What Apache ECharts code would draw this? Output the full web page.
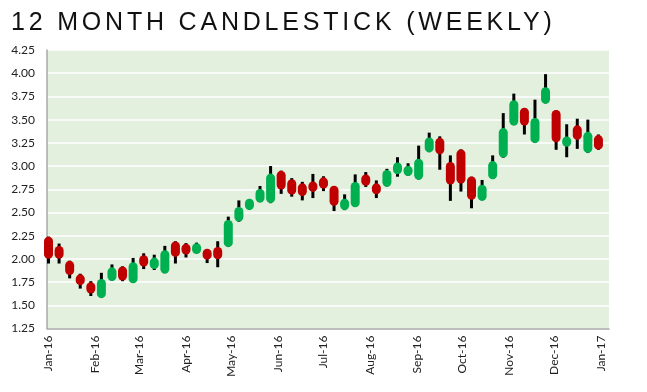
<!DOCTYPE html>
<html>
<head>
<meta charset="utf-8">
<script src="https://cdn.jsdelivr.net/npm/echarts@6/dist/echarts.min.js"></script>
<style>
  html, body { margin: 0; padding: 0; background: #fff; }
  #wrap { position: relative; width: 647px; height: 392px; }
  #chart { position: absolute; left: 0; top: 0; width: 647px; height: 392px; }
  #title { position: absolute; left: 11px; top: 9px; font-family: "Liberation Sans", Arial, sans-serif;
           font-size: 25px; line-height: 25px; letter-spacing: 3.8px; color: #111; white-space: nowrap; z-index: 2; }
</style>
</head>
<body>
<div id="wrap">
  <div id="chart"></div>
  <div id="title">12 MONTH CANDLESTICK (WEEKLY)</div>
</div>
<script>
// Weekly candles (week ending Friday)
const weeks = [
  '2016-01-01','2016-01-08','2016-01-15','2016-01-22','2016-01-29',
  '2016-02-05','2016-02-12','2016-02-19','2016-02-26',
  '2016-03-04','2016-03-11','2016-03-18','2016-03-25',
  '2016-04-01','2016-04-08','2016-04-15','2016-04-22','2016-04-29',
  '2016-05-06','2016-05-13','2016-05-20','2016-05-27',
  '2016-06-03','2016-06-10','2016-06-17','2016-06-24',
  '2016-07-01','2016-07-08','2016-07-15','2016-07-22','2016-07-29',
  '2016-08-05','2016-08-12','2016-08-19','2016-08-26',
  '2016-09-02','2016-09-09','2016-09-16','2016-09-23','2016-09-30',
  '2016-10-07','2016-10-14','2016-10-21','2016-10-28',
  '2016-11-04','2016-11-11','2016-11-18','2016-11-25',
  '2016-12-02','2016-12-09','2016-12-16','2016-12-23','2016-12-30'
];
const openVals = [
  2.19, 2.09, 1.93, 1.785, 1.70, 1.625, 1.81, 1.87, 1.785, 1.99, 1.94, 1.89, 2.14,
  2.115, 2.10, 2.06, 2.08, 2.175, 2.45, 2.575, 2.655, 2.65, 2.90, 2.81, 2.765, 2.785,
  2.83, 2.74, 2.575, 2.605, 2.86, 2.765, 2.825, 2.96, 2.94, 2.90, 3.195, 3.255, 2.995,
  3.13, 2.84, 2.675, 2.905, 3.14, 3.485, 3.58, 3.295, 3.72, 3.555, 3.255, 3.39, 3.19, 3.285
];
const highVals = [
  2.24, 2.165, 1.98, 1.84, 1.76, 1.85, 1.94, 1.92, 2.01, 2.06, 2.045, 2.14, 2.19,
  2.17, 2.175, 2.10, 2.19, 2.455, 2.63, 2.645, 2.785, 3.00, 2.95, 2.87, 2.83, 2.915,
  2.89, 2.785, 2.695, 2.91, 2.935, 2.845, 2.97, 3.095, 3.03, 3.22, 3.36, 3.32, 3.115,
  3.18, 2.885, 2.85, 3.115, 3.57, 3.78, 3.625, 3.715, 3.99, 3.60, 3.45, 3.51, 3.50, 3.34
];
const lowVals = [
  1.95, 1.95, 1.79, 1.68, 1.60, 1.58, 1.765, 1.76, 1.74, 1.89, 1.88, 1.845, 1.95,
  2.015, 2.06, 1.955, 1.91, 2.13, 2.40, 2.53, 2.61, 2.60, 2.70, 2.67, 2.63, 2.655,
  2.73, 2.515, 2.525, 2.56, 2.775, 2.655, 2.78, 2.885, 2.895, 2.855, 3.15, 2.96, 2.625,
  2.725, 2.545, 2.63, 2.86, 3.09, 3.44, 3.34, 3.25, 3.675, 3.175, 3.095, 3.185, 3.14, 3.175
];
const closeVals = [
  2.05, 2.05, 1.875, 1.765, 1.675, 1.735, 1.86, 1.815, 1.915, 1.965, 1.965, 2.045, 2.07,
  2.095, 2.12, 2.04, 2.045, 2.37, 2.51, 2.60, 2.705, 2.87, 2.795, 2.74, 2.725, 2.77,
  2.805, 2.62, 2.60, 2.78, 2.835, 2.745, 2.91, 2.99, 2.955, 3.03, 3.26, 3.175, 2.85,
  2.86, 2.685, 2.75, 3.005, 3.36, 3.66, 3.485, 3.47, 3.80, 3.305, 3.27, 3.33, 3.32, 3.225
];
// Month tick labels
const monthTicks = [
  '2016-01-01','2016-02-01','2016-03-01','2016-04-01','2016-05-01','2016-06-01','2016-07-01',
  '2016-08-01','2016-09-01','2016-10-01','2016-11-01','2016-12-01','2017-01-01'
];
const monthLabels = ['Jan-16','Feb-16','Mar-16','Apr-16','May-16','Jun-16','Jul-16',
  'Aug-16','Sep-16','Oct-16','Nov-16','Dec-16','Jan-17'];
const axisStart = '2015-12-31';
const axisEnd = '2017-01-06';

function ts(s) { const p = s.split('-').map(Number); return new Date(p[0], p[1] - 1, p[2]).getTime(); }

const tickTs = monthTicks.map(ts);
const data = weeks.map((w, i) => [ts(w), openVals[i], closeVals[i], lowVals[i], highVals[i]]);

const UP = '#00b050', DOWN = '#c00000';

const chart = echarts.init(document.getElementById('chart'), null, { renderer: 'canvas' });
chart.setOption({
  animation: false,
  backgroundColor: '#ffffff',
  grid: { left: 47, right: 38, top: 50, bottom: 63.5, show: true, backgroundColor: '#e3f0dd', borderWidth: 0 },
  xAxis: {
    type: 'value',
    min: ts(axisStart), max: ts(axisEnd),
    splitLine: { show: false },
    axisTick: { show: false },
    axisLine: { show: true, lineStyle: { color: '#a8a8a8', width: 1.5 } },
    axisLabel: {
      customValues: tickTs,
      rotate: 90,
      margin: 7,
      fontFamily: 'Lato, "Open Sans", sans-serif',
      fontSize: 12,
      color: '#222',
      formatter: function (v) { const i = tickTs.indexOf(v); return i >= 0 ? monthLabels[i] : ''; }
    }
  },
  yAxis: {
    type: 'value',
    min: 1.25, max: 4.25, interval: 0.25,
    axisLine: { show: true, lineStyle: { color: '#a8a8a8', width: 1.5 } },
    axisTick: { show: false },
    splitLine: { show: true, lineStyle: { color: '#ffffff', width: 1.5 } },
    axisLabel: {
      margin: 12,
      fontFamily: 'Lato, "Open Sans", sans-serif',
      fontSize: 12,
      color: '#222',
      formatter: v => v.toFixed(2)
    }
  },
  series: [{
    type: 'custom',
    data: data,
    encode: { x: 0, y: [1, 2, 3, 4] },
    renderItem: function (params, api) {
      const t = api.value(0), o = api.value(1), c = api.value(2), l = api.value(3), h = api.value(4);
      const pH = api.coord([t, h]), pL = api.coord([t, l]);
      const pO = api.coord([t, o]), pC = api.coord([t, c]);
      return {
        type: 'group',
        children: [
          { type: 'rect', shape: { x: pH[0] - 1.5, y: pH[1], width: 3, height: pL[1] - pH[1] }, style: { fill: '#000' } },
          { type: 'line', shape: { x1: pO[0], y1: pO[1], x2: pC[0], y2: pC[1] },
            style: { stroke: c >= o ? UP : DOWN, lineWidth: 9, lineCap: 'round' } }
        ]
      };
    }
  }]
});
</script>
</body>
</html>
